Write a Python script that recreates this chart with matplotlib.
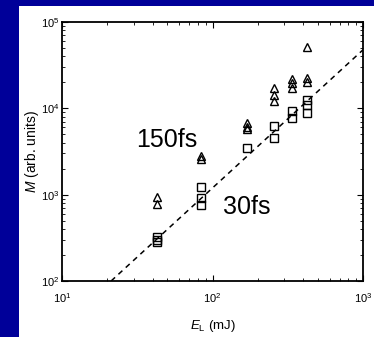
#!/usr/bin/env python
import numpy as np
import matplotlib.pyplot as plt
from matplotlib.patches import Rectangle

# 150 fs pulses (triangles)
e_tri = [43, 43, 84, 84, 169, 169, 169, 257, 257, 257, 340, 340, 340, 425, 425, 425]
m_tri = [950, 780, 2800, 2600, 6800, 6100, 5800, 17200, 14300, 12000,
         21900, 19500, 17100, 51900, 22300, 20400]
# 30 fs pulses (squares)
e_sq = [43, 43, 43, 84, 84, 84, 169, 257, 257, 340, 340, 425, 425, 425]
m_sq = [325, 300, 280, 1240, 910, 760, 3500, 6250, 4570, 9300, 7800, 12500, 11000, 8900]
# dashed guide line
e_fit = [21.2, 1000]
m_fit = [100, 47600]

plt.rcParams['font.family'] = ['Liberation Sans', 'DejaVu Sans']
plt.rcParams['mathtext.fontset'] = 'custom'
plt.rcParams['mathtext.rm'] = 'Liberation Sans'
plt.rcParams['mathtext.it'] = 'Liberation Sans:italic'

fig = plt.figure(figsize=(3.74, 3.37), dpi=100)
fig.patch.set_facecolor('#000099')
fig.patches.append(Rectangle((19/374, 0), 1, 1 - 6/337, transform=fig.transFigure,
                             facecolor='white', edgecolor='none', zorder=-5))
ax = fig.add_axes([62/374, 1 - 281/337, 301/374, 259/337])
ax.set_zorder(2)

ax.plot(e_fit, m_fit, ls='--', c='k', lw=1.1, dashes=(3.5, 3))
ax.plot(e_tri, m_tri, ls='', marker='^', ms=5.5, mfc='none', mec='k', mew=1)
ax.plot(e_sq, m_sq, ls='', marker='s', ms=5.3, mfc='none', mec='k', mew=1)

ax.set_xscale('log')
ax.set_yscale('log')
ax.set_xlim(10, 1000)
ax.set_ylim(100, 1e5)
ax.tick_params(which='both', direction='in', top=True, right=True, labelsize=8)
ax.tick_params(axis='x', pad=7)
ax.tick_params(axis='y', pad=2)
ax.tick_params(which='major', length=4)
ax.tick_params(which='minor', length=2)
for s in ax.spines.values():
    s.set_linewidth(1.3)

ax.set_xlabel(r'$E_{\rm L}$ (mJ)', fontsize=9.5, labelpad=10)
ax.set_ylabel(r'$M$ (arb. units)', fontsize=10, labelpad=0)

ax.text(50, 4300, '150fs', fontsize=18, ha='center', va='center')
ax.text(170, 720, '30fs', fontsize=18, ha='center', va='center')

fig.savefig('out.png', dpi=100, facecolor=fig.get_facecolor())
